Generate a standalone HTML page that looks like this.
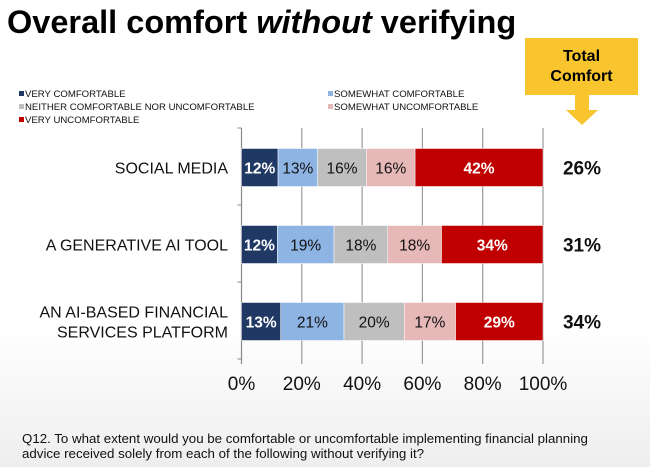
<!DOCTYPE html>
<html><head><meta charset="utf-8"><style>
body{margin:0;width:650px;height:467px;overflow:hidden;font-family:"Liberation Sans",Arial,sans-serif;background:linear-gradient(#ffffff 0%,#ffffff 70%,#eeeeee 100%);position:relative}
.t{position:absolute;white-space:nowrap}
</style></head><body>
<div class="t" style="left:7px;top:4px;font-size:32.5px;font-weight:bold;color:#000">Overall comfort <i>without</i> verifying</div>
<div style="position:absolute;left:525px;top:38px;width:113px;height:57px;background:#f8c52f"></div>
<div class="t" style="left:525px;top:47px;width:113px;text-align:center;font-weight:bold;font-size:16px;line-height:20px">Total<br>Comfort</div>
<svg style="position:absolute;left:0;top:0" width="650" height="467">
<polygon points="575,95 589,95 589,110 598,110 582,125 566,110 575,110" fill="#f8c52f"/>
<g id="legend"></g>
<g id="grid"></g><g id="bars"></g><g id="labels"></g>
</svg>
<div class="t" style="left:22px;top:431px;font-size:13.3px;line-height:15px;color:#111">Q12. To what extent would you be comfortable or uncomfortable implementing financial planning<br>advice received solely from each of the following without verifying it?</div>
<script>
const categories=["SOCIAL MEDIA","A GENERATIVE AI TOOL","AN AI-BASED FINANCIAL|SERVICES PLATFORM"];
const seriesNames=["VERY COMFORTABLE","SOMEWHAT COMFORTABLE","NEITHER COMFORTABLE NOR UNCOMFORTABLE","SOMEWHAT UNCOMFORTABLE","VERY UNCOMFORTABLE"];
const veryComf=[12,12,13];
const someComf=[13,19,21];
const neither=[16,18,20];
const someUncomf=[16,18,17];
const veryUncomf=[42,34,29];
const totals=["26%","31%","34%"];
const ticks=[0,20,40,60,80,100];
const series=[veryComf,someComf,neither,someUncomf,veryUncomf];
const colors=["#1f3864","#8eb4e3","#bfbfbf","#e6b9b8","#c00000"];
const textCol=["#fff","#111","#111","#111","#fff"];
const NS="http://www.w3.org/2000/svg";
const X0=241.5,X1=543,Y0=128,band=77,bh=38;
const xs=v=>X0+(X1-X0)*v/100;
const yc=i=>Y0+band*(i+0.5)+1;
function mk(p,tag,a){const e=document.createElementNS(NS,tag);for(const k in a)e.setAttribute(k,a[k]);document.getElementById(p).appendChild(e);return e;}
ticks.forEach((t,i)=>{
 const l=mk('grid','line',{x1:xs(t),x2:xs(t),y1:Y0,y2:Y0+band*3+5,stroke:i==0?'#888':'#999','stroke-width':1.2});
 
 
 const tx=mk('grid','text',{x:xs(t),y:Y0+band*3+31,'text-anchor':'middle','font-size':19,fill:'#111'});
 tx.textContent=t+'%';
 
 
});
for(let i=0;i<=3;i++){const l=mk('grid','line',{x1:X0-4,x2:X0,y1:Y0+band*i,y2:Y0+band*i,stroke:'#888'});
 
 }
categories.forEach((c,i)=>{
 let sum=0;series.forEach(s=>sum+=s[i]);
 let cum=0;
 series.forEach((s,j)=>{
  const v=s[i]*100/sum;
  const r=mk('bars','rect',{x:xs(cum),y:yc(i)-bh/2,width:xs(cum+v)-xs(cum),height:bh,fill:colors[j],stroke:'#fff','stroke-width':0.5});
  
  
  const t=mk('bars','text',{x:(xs(cum)+xs(cum+v))/2,y:yc(i)+6,'text-anchor':'middle','font-size':15.5,fill:textCol[j],'font-weight':(j==0||j==4)?'bold':'normal'});
  t.textContent=s[i]+'%';
  
  
  cum+=v;
 });
 const lines=c.split('|');
 lines.forEach((ln,k)=>{
  const t=mk('labels','text',{x:228,y:yc(i)+6+(k-(lines.length-1)/2)*20,'text-anchor':'end','font-size':16,fill:'#111'});
  t.textContent=ln;
  
  
 });
 const tt=mk('labels','text',{x:582,y:yc(i)+7,'text-anchor':'middle','font-size':19,'font-weight':'bold',fill:'#111'});
 tt.textContent=totals[i];
 
 
});
const lpos=[[19,97],[328,97],[19,110],[328,110],[19,123]];
seriesNames.forEach((n,j)=>{
 const r=mk('legend','rect',{x:lpos[j][0],y:lpos[j][1]-6,width:5,height:5,fill:colors[j]});
 
 
 const t=mk('legend','text',{x:lpos[j][0]+6,y:lpos[j][1],'font-size':9.6,fill:'#111'});
 t.textContent=n;
 
 
});
</script>
</body></html>
